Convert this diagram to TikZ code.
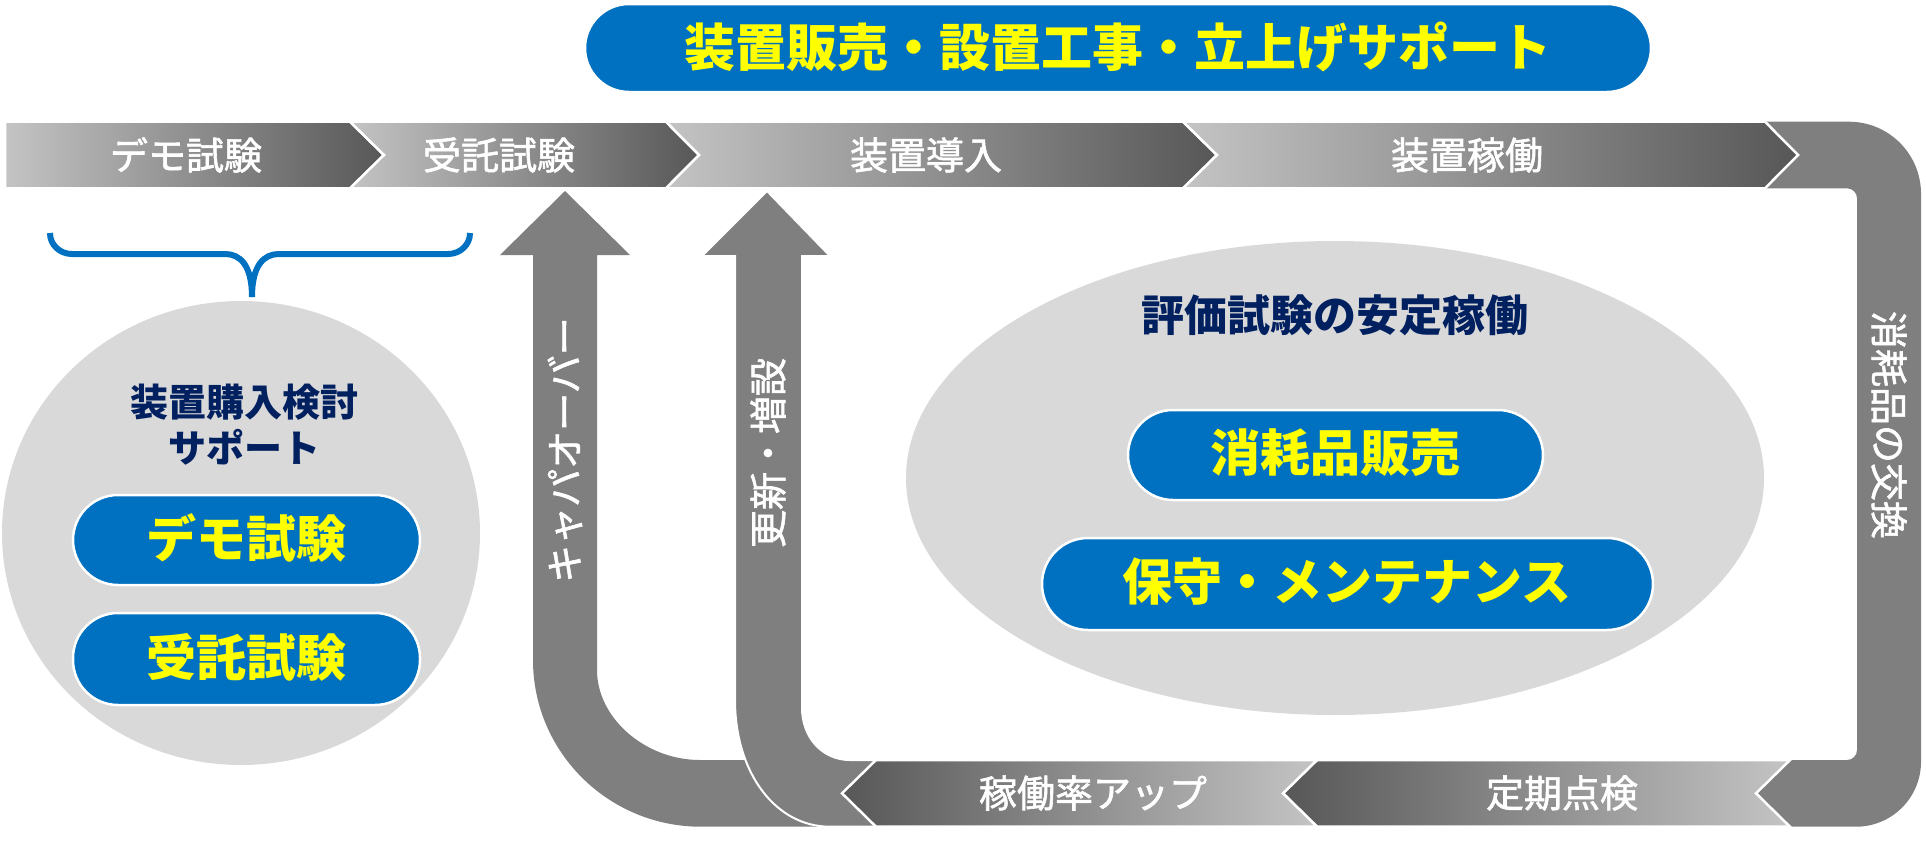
\documentclass[tikz,border=0pt]{standalone}
\usepackage{fontspec}
\setmainfont{Noto Sans CJK JP}
\newfontfamily\jp{Noto Sans CJK JP}
\newfontfamily\jpm[FakeBold=1.6]{Noto Sans CJK JP}
\definecolor{blueP}{HTML}{0070C0}
\definecolor{yel}{HTML}{FFFF00}
\definecolor{navy}{HTML}{002060}
\definecolor{lgray}{HTML}{D9D9D9}
\definecolor{bandgray}{HTML}{7F7F7F}
\definecolor{segL}{HTML}{C4C4C4}
\definecolor{segR}{HTML}{575757}
\tikzset{
  barlabel/.style={text=white, font=\jpm\fontsize{38}{40}\selectfont, inner sep=0pt},
  pilltext/.style={text=yel, font=\jp\bfseries\fontsize{50}{52}\selectfont, inner sep=0pt},
  toptext/.style={text=yel, font=\jp\bfseries\fontsize{51}{53}\selectfont, inner sep=0pt},
  navytext/.style={text=navy, font=\jp\bfseries\fontsize{38}{46}\selectfont, align=center, inner sep=0pt},
  navybig/.style={text=navy, font=\jp\bfseries\fontsize{43}{46}\selectfont, inner sep=0pt},
  pillbox/.style={fill=blueP, draw=white, line width=2.5pt},
  segfwd/.style={draw=white, line width=2.5pt, left color=segL, right color=segR},
  segrev/.style={draw=white, line width=2.5pt, left color=segR, right color=segL},
  bandfill/.style={fill=bandgray},
  uarrow/.style={fill=bandgray, draw=white, line width=2pt},
  softfill/.style={fill=lgray},
  bracestroke/.style={draw=blueP, line width=6pt, line cap=butt},
}
\begin{document}
\begin{tikzpicture}[x=1pt,y=-1pt]
\useasboundingbox (0,0) rectangle (1926,841);

% gray backgrounds
\path[softfill] (241,533) ellipse [x radius=239, y radius=232];
\path[softfill] (1335,478) ellipse [x radius=429, y radius=237];

% left U arrow (capacity over)
\path[bandfill] (565,191) -- (630,255) -- (597,255) -- (597,670)
  .. controls (597,718) and (645,760) .. (700,760)
  -- (860,760) -- (860,826.7) -- (701,826.7)
  .. controls (608.3,826.7) and (533,752) .. (533,660)
  -- (533,255) -- (500,255) -- cycle;

% right U arrow (renewal)
\path[uarrow] (767,191) -- (830,256) -- (802,256) -- (802,708)
  .. controls (802,737) and (822,760) .. (850,760)
  -- (900,760) -- (900,826.7) -- (830,826.7)
  .. controls (775,826.7) and (735,772) .. (735,700)
  -- (735,256) -- (702,256) -- cycle;

% right loop band
\path[bandfill] (1740,121.7) -- (1849,121.7)
  .. controls (1888.7,121.7) and (1921,154) .. (1921,193.7)
  -- (1921,761.7)
  .. controls (1921,797.6) and (1891.9,826.7) .. (1856,826.7)
  -- (1740,826.7) -- (1740,760) -- (1847,760)
  .. controls (1852.5,760) and (1857,755.5) .. (1857,750)
  -- (1857,198.3)
  .. controls (1857,192.8) and (1852.5,188.3) .. (1847,188.3)
  -- (1740,188.3) -- cycle;

% top bar
\path[segfwd] (5,121.7) -- (350,121.7) -- (384,155) -- (350,188.3) -- (5,188.3) -- cycle;
\path[segfwd] (350,121.7) -- (666,121.7) -- (699,155) -- (666,188.3) -- (350,188.3) -- (384,155) -- cycle;
\path[segfwd] (666,121.7) -- (1183,121.7) -- (1217,155) -- (1183,188.3) -- (666,188.3) -- (699,155) -- cycle;
\path[segfwd] (1183,121.7) -- (1765,121.7) -- (1798,155) -- (1765,188.3) -- (1183,188.3) -- (1217,155) -- cycle;

% bottom bar
\path[segrev] (1790,760) -- (1317,760) -- (1283,793.3) -- (1317,826.7) -- (1790,826.7) -- (1756,793.3) -- cycle;
\path[segrev] (1317,760) -- (876,760) -- (842,793.3) -- (876,826.7) -- (1317,826.7) -- (1283,793.3) -- cycle;

% brace
\path[bracestroke] (50,233) .. controls (50,245) and (60,254) .. (72,254) -- (225,254) .. controls (240,254) and (252,265) .. (252,297);
\path[bracestroke] (470,233) .. controls (470,245) and (460,254) .. (448,254) -- (279,254) .. controls (264,254) and (252,265) .. (252,297);

% pills
\path[pillbox, rounded corners=44pt] (585,4) rectangle (1651,92);
\path[pillbox, rounded corners=45pt] (73,495) rectangle (420,585);
\path[pillbox, rounded corners=45pt] (73,613) rectangle (420,705);
\path[pillbox, rounded corners=45pt] (1128,410) rectangle (1543,500);
\path[pillbox, rounded corners=46pt] (1042,538) rectangle (1653,630);

% texts
\node[toptext] (ttop) at (1118,47) {装置販売・設置工事・立上げサポート};
\node[barlabel] (s1) at (186,155) {デモ試験};
\node[barlabel] (s2) at (499,155) {受託試験};
\node[barlabel] (s3) at (926,155) {装置導入};
\node[barlabel] (s4) at (1467,155) {装置稼働};
\node[barlabel] (b2) at (1093,793) {稼働率アップ};
\node[barlabel] (b1) at (1562,793) {定期点検};
\node[barlabel, rotate=90] (cap) at (565,450) {キャパオーバー};
\node[barlabel, rotate=90] (ren) at (768,453) {更新・増設};
\node[barlabel, rotate=-90] (cons) at (1889,425) {消耗品の交換};
\node[navytext] (sup) at (244,425) {装置購入検討\\サポート};
\node[pilltext] (p1) at (246.5,538) {デモ試験};
\node[pilltext] (p2) at (246.5,657) {受託試験};
\node[navybig] (eval) at (1335,315) {評価試験の安定稼働};
\node[pilltext] (p3) at (1335.5,453) {消耗品販売};
\node[pilltext] (p4) at (1347,582) {保守・メンテナンス};
\end{tikzpicture}
\end{document}
